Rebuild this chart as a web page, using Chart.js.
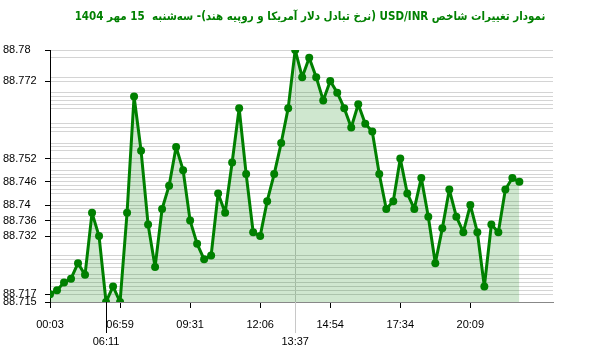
<!DOCTYPE html>
<html>
<head>
<meta charset="utf-8">
<script src="https://cdn.jsdelivr.net/npm/chart.js@4"></script>
<style>
  html, body { margin: 0; padding: 0; background: #fff; }
  canvas { display: block; }
</style>
</head>
<body>
<canvas id="usdInr" width="600" height="352" dir="rtl"></canvas>
<script>
// USD/INR intraday - one value per sample, equally spaced
const rates = [
  88.717, 88.718, 88.720, 88.721, 88.725, 88.722, 88.738, 88.732, 88.715, 88.719,
  88.715, 88.738, 88.768, 88.754, 88.735, 88.724, 88.739, 88.745, 88.755, 88.749,
  88.736, 88.730, 88.726, 88.727, 88.743, 88.738, 88.751, 88.765, 88.748, 88.733,
  88.732, 88.741, 88.748, 88.756, 88.765, 88.780, 88.773, 88.778, 88.773, 88.767,
  88.772, 88.769, 88.765, 88.760, 88.766, 88.761, 88.759, 88.748, 88.739, 88.741,
  88.752, 88.743, 88.739, 88.747, 88.737, 88.725, 88.734, 88.744, 88.737, 88.733,
  88.740, 88.733, 88.719, 88.735, 88.733, 88.744, 88.747, 88.746,
];

// x tick positions (sample index) and their time labels
const timeTickIdx = [0, 8, 10, 20, 30, 35, 40, 50, 60];
const timeTickLabels = ['00:03', '06:11', '06:59', '09:31', '12:06', '13:37', '14:54', '17:34', '20:09'];
// min / max markers get the lower label row
const lowIdx = 8;
const highIdx = 35;

const yTickLabels = ['88.78', '88.772', '88.752', '88.746', '88.74', '88.736', '88.732', '88.717', '88.715'];

const titleText = 'نمودار تغییرات شاخص USD/INR (نرخ تبادل دلار آمریکا و روپیه هند)- سه‌شنبه  15 مهر 1404';

const yMin = 88.715;
const yMax = 88.78;
const xMax = 71.8;

const labeledY = {};
yTickLabels.forEach(s => { labeledY[parseFloat(s).toFixed(3)] = s; });

// a grid line for every value in the series, plus the labeled ones
const gridValues = Array.from(new Set(rates.concat(yTickLabels.map(Number)).map(v => v.toFixed(3))))
  .map(Number).sort((a, b) => a - b);

// title is drawn by hand so it can sit a bit right of the canvas centre
const titlePlugin = {
  id: 'titleText',
  afterDraw(chart) {
    const { ctx } = chart;
    ctx.save();
    ctx.direction = 'rtl';
    ctx.fillStyle = '#008000';
    ctx.font = 'bold 11.5px "DejaVu Sans Condensed", "DejaVu Sans"';
    ctx.textAlign = 'center';
    ctx.textBaseline = 'middle';
    ctx.fillText(titleText, chart.width / 2 + 10, 17);
    ctx.restore();
  },
};

const markerLines = {
  id: 'markerLines',
  afterDraw(chart) {
    const { ctx, chartArea, scales } = chart;
    const x = scales.x;
    [[lowIdx, '#000'], [highIdx, '#c8c8c8']].forEach(([idx, col]) => {
      const px = Math.round(x.getPixelForValue(idx)) + 0.5;
      ctx.save();
      ctx.strokeStyle = col;
      ctx.lineWidth = 1;
      ctx.beginPath();
      ctx.moveTo(px, chartArea.bottom);
      ctx.lineTo(px, chartArea.bottom + 31);
      ctx.stroke();
      ctx.restore();
    });
  },
};

new Chart(document.getElementById('usdInr'), {
  type: 'line',
  data: {
    datasets: [{
      data: rates.map((v, i) => ({ x: i, y: v })),
      borderColor: '#008000',
      backgroundColor: 'rgba(0,128,0,0.19)',
      borderWidth: 3,
      borderJoinStyle: 'round',
      pointRadius: 4,
      pointBackgroundColor: '#008000',
      pointBorderColor: '#008000',
      pointBorderWidth: 0,
      tension: 0,
      fill: 'start',
    }],
  },
  options: {
    responsive: false,
    animation: false,
    layout: { padding: { left: 3, right: 47, top: 50, bottom: 0 } },
    plugins: {
      legend: { display: false },
      tooltip: { enabled: false },
      title: { display: false },
    },
    scales: {
      x: {
        type: 'linear',
        min: 0,
        max: xMax,
        afterBuildTicks: (scale) => { scale.ticks = timeTickIdx.map(v => ({ value: v })); },
        afterFit: (scale) => { scale.height = 50; },
        ticks: {
          autoSkip: false,
          maxRotation: 0,
          padding: 9,
          color: '#000',
          font: { family: 'Liberation Sans', size: 11, lineHeight: 1.5 },
          callback: (value) => {
            const k = timeTickIdx.indexOf(value);
            if (k < 0) return '';
            return (value === lowIdx || value === highIdx) ? ['', timeTickLabels[k]] : timeTickLabels[k];
          },
        },
        grid: {
          color: (c) => (c.tick && c.tick.value === highIdx ? '#c8c8c8' : 'rgba(0,0,0,0)'),
          tickColor: (c) => (c.tick && c.tick.value === highIdx ? '#c8c8c8' : '#000'),
          tickLength: 6,
        },
        border: { color: '#888' },
      },
      y: {
        min: yMin,
        max: yMax,
        afterBuildTicks: (scale) => { scale.ticks = gridValues.map(v => ({ value: v })); },
        afterFit: (scale) => { scale.width = 47; },
        ticks: {
          autoSkip: false,
          crossAlign: 'far',
          padding: 4,
          color: '#000',
          font: { family: 'Liberation Sans', size: 11 },
          callback: (value) => labeledY[Number(value).toFixed(3)] || '',
        },
        grid: {
          color: '#d4d4d4',
          tickColor: (c) => (c.tick && labeledY[Number(c.tick.value).toFixed(3)] ? '#000' : 'rgba(0,0,0,0)'),
          tickLength: 5,
        },
        border: { color: '#000' },
      },
    },
  },
  plugins: [markerLines, titlePlugin],
});
</script>
</body>
</html>
